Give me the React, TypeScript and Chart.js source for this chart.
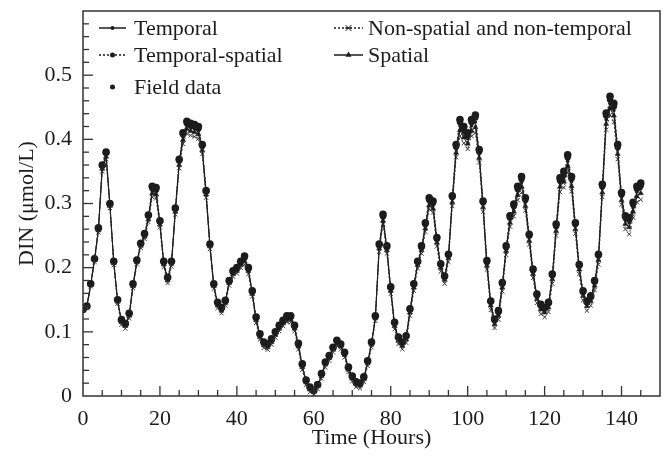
import React, { useEffect, useRef } from "react";
import { Chart, registerables } from "chart.js";

Chart.register(...registerables);

// Hours 0..145 (hourly time grid)
const hours: number[] = Array.from({ length: 146 }, (_, i) => i);

const fieldData = [
  0.135, 0.140, 0.175, 0.214, 0.262, 0.360, 0.380, 0.300, 0.210, 0.150,
  0.119, 0.113, 0.129, 0.175, 0.212, 0.238, 0.253, 0.282, 0.327, 0.325,
  0.273, 0.210, 0.185, 0.210, 0.293, 0.369, 0.410, 0.428, 0.425, 0.423,
  0.420, 0.392, 0.320, 0.237, 0.175, 0.146, 0.138, 0.149, 0.180, 0.195,
  0.200, 0.210, 0.218, 0.200, 0.164, 0.123, 0.097, 0.084, 0.081, 0.089,
  0.100, 0.110, 0.118, 0.125, 0.125, 0.110, 0.082, 0.050, 0.025, 0.014,
  0.009, 0.018, 0.035, 0.053, 0.063, 0.076, 0.087, 0.081, 0.068, 0.045,
  0.031, 0.022, 0.020, 0.030, 0.055, 0.084, 0.125, 0.237, 0.283, 0.234,
  0.170, 0.115, 0.092, 0.084, 0.094, 0.136, 0.175, 0.210, 0.234, 0.270,
  0.309, 0.304, 0.247, 0.206, 0.187, 0.221, 0.312, 0.392, 0.431, 0.420,
  0.410, 0.431, 0.438, 0.384, 0.304, 0.211, 0.148, 0.120, 0.133, 0.177,
  0.234, 0.281, 0.299, 0.327, 0.342, 0.309, 0.252, 0.198, 0.159, 0.143,
  0.138, 0.146, 0.190, 0.268, 0.340, 0.350, 0.376, 0.342, 0.270, 0.205,
  0.164, 0.148, 0.156, 0.180, 0.221, 0.330, 0.441, 0.467, 0.456, 0.392,
  0.317, 0.281, 0.278, 0.302, 0.327, 0.332,
];

const temporal = [
  0.136, 0.141, 0.174, 0.213, 0.260, 0.357, 0.376, 0.298, 0.209, 0.149,
  0.117, 0.111, 0.127, 0.173, 0.210, 0.236, 0.250, 0.278, 0.320, 0.318,
  0.270, 0.207, 0.182, 0.208, 0.290, 0.364, 0.404, 0.421, 0.418, 0.416,
  0.413, 0.387, 0.317, 0.235, 0.173, 0.143, 0.135, 0.147, 0.178, 0.192,
  0.197, 0.206, 0.213, 0.197, 0.161, 0.120, 0.094, 0.081, 0.078, 0.086,
  0.097, 0.107, 0.115, 0.121, 0.121, 0.107, 0.079, 0.047, 0.022, 0.011,
  0.007, 0.016, 0.033, 0.051, 0.061, 0.074, 0.084, 0.079, 0.066, 0.043,
  0.029, 0.020, 0.018, 0.028, 0.053, 0.082, 0.123, 0.233, 0.277, 0.230,
  0.167, 0.112, 0.089, 0.081, 0.091, 0.133, 0.172, 0.207, 0.230, 0.265,
  0.302, 0.297, 0.243, 0.203, 0.184, 0.218, 0.307, 0.385, 0.421, 0.410,
  0.401, 0.421, 0.427, 0.377, 0.299, 0.207, 0.145, 0.116, 0.129, 0.173,
  0.230, 0.275, 0.293, 0.319, 0.333, 0.302, 0.247, 0.194, 0.155, 0.139,
  0.134, 0.142, 0.186, 0.262, 0.332, 0.341, 0.366, 0.334, 0.265, 0.201,
  0.160, 0.144, 0.152, 0.176, 0.217, 0.323, 0.431, 0.456, 0.445, 0.384,
  0.311, 0.274, 0.270, 0.294, 0.318, 0.323,
];

const temporalSpatial = [
  0.136, 0.140, 0.175, 0.214, 0.261, 0.359, 0.379, 0.299, 0.210, 0.150,
  0.118, 0.112, 0.128, 0.174, 0.211, 0.237, 0.252, 0.281, 0.324, 0.322,
  0.272, 0.209, 0.184, 0.209, 0.292, 0.367, 0.408, 0.425, 0.422, 0.420,
  0.417, 0.390, 0.319, 0.236, 0.174, 0.145, 0.137, 0.148, 0.179, 0.194,
  0.199, 0.208, 0.216, 0.199, 0.163, 0.122, 0.096, 0.083, 0.080, 0.088,
  0.099, 0.109, 0.117, 0.123, 0.123, 0.109, 0.081, 0.049, 0.024, 0.013,
  0.008, 0.017, 0.034, 0.052, 0.062, 0.075, 0.086, 0.080, 0.067, 0.044,
  0.030, 0.021, 0.019, 0.029, 0.054, 0.083, 0.124, 0.235, 0.280, 0.232,
  0.169, 0.114, 0.091, 0.083, 0.093, 0.135, 0.174, 0.209, 0.232, 0.268,
  0.306, 0.301, 0.245, 0.205, 0.186, 0.220, 0.310, 0.389, 0.427, 0.416,
  0.406, 0.427, 0.434, 0.381, 0.302, 0.209, 0.147, 0.118, 0.131, 0.175,
  0.232, 0.278, 0.296, 0.323, 0.338, 0.306, 0.250, 0.196, 0.157, 0.141,
  0.136, 0.144, 0.188, 0.265, 0.336, 0.346, 0.372, 0.339, 0.268, 0.203,
  0.162, 0.146, 0.154, 0.178, 0.219, 0.327, 0.437, 0.462, 0.451, 0.388,
  0.314, 0.278, 0.275, 0.299, 0.323, 0.328,
];

const spatial = [
  0.135, 0.139, 0.173, 0.212, 0.258, 0.354, 0.373, 0.296, 0.207, 0.147,
  0.115, 0.109, 0.125, 0.171, 0.208, 0.234, 0.248, 0.275, 0.316, 0.314,
  0.267, 0.205, 0.180, 0.206, 0.287, 0.360, 0.399, 0.416, 0.413, 0.411,
  0.408, 0.383, 0.314, 0.233, 0.171, 0.141, 0.133, 0.145, 0.176, 0.190,
  0.195, 0.204, 0.210, 0.195, 0.159, 0.118, 0.092, 0.079, 0.076, 0.084,
  0.095, 0.105, 0.113, 0.119, 0.119, 0.105, 0.077, 0.045, 0.021, 0.010,
  0.006, 0.015, 0.031, 0.049, 0.059, 0.072, 0.082, 0.077, 0.064, 0.041,
  0.027, 0.018, 0.016, 0.026, 0.051, 0.080, 0.121, 0.230, 0.273, 0.227,
  0.164, 0.109, 0.086, 0.078, 0.088, 0.130, 0.169, 0.204, 0.227, 0.261,
  0.297, 0.292, 0.239, 0.200, 0.181, 0.215, 0.302, 0.379, 0.414, 0.403,
  0.393, 0.413, 0.419, 0.371, 0.294, 0.203, 0.141, 0.112, 0.125, 0.169,
  0.226, 0.270, 0.287, 0.313, 0.326, 0.296, 0.242, 0.190, 0.151, 0.135,
  0.130, 0.138, 0.182, 0.257, 0.326, 0.334, 0.358, 0.327, 0.260, 0.197,
  0.156, 0.140, 0.148, 0.172, 0.212, 0.317, 0.424, 0.448, 0.437, 0.377,
  0.305, 0.268, 0.263, 0.287, 0.311, 0.316,
];

const nonSpatial = [
  0.134, 0.137, 0.171, 0.209, 0.255, 0.350, 0.369, 0.293, 0.204, 0.144,
  0.111, 0.105, 0.121, 0.168, 0.205, 0.231, 0.245, 0.271, 0.310, 0.308,
  0.263, 0.201, 0.176, 0.202, 0.283, 0.355, 0.393, 0.409, 0.406, 0.404,
  0.401, 0.377, 0.309, 0.229, 0.167, 0.137, 0.129, 0.141, 0.172, 0.186,
  0.191, 0.200, 0.205, 0.190, 0.155, 0.114, 0.088, 0.075, 0.072, 0.080,
  0.091, 0.101, 0.109, 0.115, 0.115, 0.101, 0.073, 0.041, 0.017, 0.006,
  0.003, 0.011, 0.027, 0.045, 0.055, 0.068, 0.078, 0.073, 0.060, 0.037,
  0.023, 0.014, 0.012, 0.022, 0.047, 0.076, 0.117, 0.225, 0.268, 0.222,
  0.159, 0.104, 0.081, 0.073, 0.083, 0.125, 0.164, 0.199, 0.222, 0.256,
  0.291, 0.286, 0.233, 0.194, 0.175, 0.209, 0.296, 0.372, 0.405, 0.394,
  0.385, 0.405, 0.410, 0.364, 0.287, 0.197, 0.134, 0.106, 0.119, 0.163,
  0.220, 0.264, 0.280, 0.305, 0.317, 0.289, 0.236, 0.184, 0.145, 0.128,
  0.123, 0.131, 0.175, 0.250, 0.318, 0.325, 0.348, 0.319, 0.253, 0.190,
  0.149, 0.133, 0.141, 0.165, 0.205, 0.310, 0.415, 0.438, 0.427, 0.369,
  0.298, 0.260, 0.252, 0.278, 0.302, 0.306,
];

const xTickLabels = ["0", "20", "40", "60", "80", "100", "120", "140"];
const yTickLabels = ["0", "0.1", "0.2", "0.3", "0.4", "0.5"];

const FONT = "'Liberation Serif', 'Times New Roman', serif";
const INK = "#1c1c1c";

const toXY = (arr: number[]) => hours.map((h, i) => ({ x: h, y: arr[i] }));

function drawMarker(ctx: CanvasRenderingContext2D, style: string, x: number, y: number, r: number) {
  ctx.beginPath();
  if (style === "triangle") {
    ctx.moveTo(x, y - r * 1.15);
    ctx.lineTo(x + r, y + r * 0.6);
    ctx.lineTo(x - r, y + r * 0.6);
    ctx.closePath();
    ctx.fill();
  } else if (style === "crossRot") {
    ctx.moveTo(x - r, y - r);
    ctx.lineTo(x + r, y + r);
    ctx.moveTo(x + r, y - r);
    ctx.lineTo(x - r, y + r);
    ctx.moveTo(x - r * 1.2, y);
    ctx.lineTo(x + r * 1.2, y);
    ctx.stroke();
  } else {
    ctx.arc(x, y, r, 0, Math.PI * 2);
    ctx.fill();
  }
}

const frameTicksPlugin = {
  id: "frameTicks",
  afterDraw(chart: any) {
    const { ctx, chartArea, scales } = chart;
    const { left, right, top, bottom } = chartArea;
    ctx.save();
    ctx.strokeStyle = "#333";
    ctx.lineWidth = 1.5;
    ctx.setLineDash([]);
    ctx.strokeRect(left, top, right - left, bottom - top);
    ctx.lineWidth = 1.3;
    scales.x.ticks.forEach((t: any) => {
      const px = scales.x.getPixelForValue(t.value);
      if (px <= left + 1 || px >= right - 1) return;
      const major = Math.round(t.value) % 20 === 0;
      ctx.beginPath();
      ctx.moveTo(px, bottom);
      ctx.lineTo(px, bottom - (major ? 10 : 6));
      ctx.stroke();
    });
    scales.y.ticks.forEach((t: any) => {
      const py = scales.y.getPixelForValue(t.value);
      if (py <= top + 1 || py >= bottom - 1) return;
      const major = Math.round(t.value * 100) % 10 === 0;
      ctx.beginPath();
      ctx.moveTo(left, py);
      ctx.lineTo(left + (major ? 10 : 6), py);
      ctx.stroke();
    });
    ctx.restore();
  },
};

const legendSlots = [
  { x1: 99, x2: 126, tx: 134, y: 28 },
  { x1: 334, x2: 363, tx: 368, y: 28 },
  { x1: 99, x2: 126, tx: 134, y: 55 },
  { x1: 334, x2: 363, tx: 368, y: 55 },
  { x1: 99, x2: 126, tx: 134, y: 87 },
];
const legendMarkerSize = [2, 3, 2.5, 3, 2.5];

const legendPlugin = {
  id: "customLegend",
  afterDraw(chart: any) {
    const { ctx } = chart;
    ctx.save();
    chart.data.datasets.forEach((ds: any, i: number) => {
      const s = legendSlots[i];
      if (!s) return;
      ctx.strokeStyle = INK;
      ctx.fillStyle = INK;
      if (ds.showLine !== false) {
        ctx.lineWidth = 1.5;
        ctx.setLineDash(ds.borderDash || []);
        ctx.beginPath();
        ctx.moveTo(s.x1, s.y);
        ctx.lineTo(s.x2, s.y);
        ctx.stroke();
      }
      ctx.setLineDash([]);
      ctx.lineWidth = 1;
      drawMarker(ctx, ds.pointStyle, (s.x1 + s.x2) / 2, s.y, legendMarkerSize[i]);
      ctx.font = `22px ${FONT}`;
      ctx.textAlign = "left";
      ctx.textBaseline = "middle";
      ctx.fillText(ds.label, s.tx, s.y + 1);
    });
    ctx.restore();
  },
};

export default function App() {
  const ref = useRef<HTMLCanvasElement | null>(null);

  useEffect(() => {
    if (!ref.current) return;
    const font = { family: FONT, size: 22 };
    const chart = new Chart(ref.current, {
      type: "line",
      data: {
        datasets: [
          {
            label: "Temporal",
            data: toXY(temporal),
            borderColor: INK,
            borderWidth: 1,
            pointStyle: "circle",
            pointRadius: 1.8,
            pointBackgroundColor: INK,
            pointBorderWidth: 0,
          },
          {
            label: "Non-spatial and non-temporal",
            data: toXY(nonSpatial),
            borderColor: "#3a3a3a",
            borderWidth: 1,
            borderDash: [2, 2],
            pointStyle: "crossRot",
            pointRadius: 3,
            pointBorderColor: "#3a3a3a",
            pointBorderWidth: 1,
          },
          {
            label: "Temporal-spatial",
            data: toXY(temporalSpatial),
            borderColor: INK,
            borderWidth: 1,
            borderDash: [2, 2],
            pointStyle: "circle",
            pointRadius: 3.2,
            pointBackgroundColor: INK,
            pointBorderWidth: 0,
          },
          {
            label: "Spatial",
            data: toXY(spatial),
            borderColor: INK,
            borderWidth: 1,
            pointStyle: "triangle",
            pointRadius: 3,
            pointBackgroundColor: INK,
            pointBorderColor: INK,
            pointBorderWidth: 0.5,
          },
          {
            label: "Field data",
            data: toXY(fieldData),
            showLine: false,
            borderColor: INK,
            pointStyle: "circle",
            pointRadius: 3.8,
            pointBackgroundColor: INK,
            pointBorderWidth: 0,
          },
        ] as any,
      },
      options: {
        animation: false,
        responsive: false,
        devicePixelRatio: 1,
        layout: { padding: { top: 11, right: 9, left: 0, bottom: 0 } },
        plugins: { legend: { display: false }, tooltip: { enabled: false } },
        scales: {
          x: {
            type: "linear",
            min: 0,
            max: 150,
            grid: { display: false, drawTicks: false },
            border: { display: false },
            ticks: {
              stepSize: 5,
              autoSkip: false,
              maxRotation: 0,
              padding: 10,
              color: INK,
              font,
              callback: (v: any) => (xTickLabels.includes(String(v)) ? String(v) : ""),
            },
            title: {
              display: true,
              text: "Time (Hours)",
              color: INK,
              font,
              padding: { top: 0, bottom: 8 },
            },
            afterFit: (s: any) => {
              s.height = 63;
              s.paddingLeft = 0;
              s.paddingRight = 0;
            },
          },
          y: {
            min: 0,
            max: 0.6,
            grid: { display: false, drawTicks: false },
            border: { display: false },
            ticks: {
              stepSize: 0.02,
              autoSkip: false,
              padding: 11,
              color: INK,
              font,
              callback: (v: any) => {
                const s = String(Math.round(Number(v) * 100) / 100);
                return yTickLabels.includes(s) ? s : "";
              },
            },
            title: {
              display: true,
              text: "DIN (μmol/L)",
              color: INK,
              font,
              padding: { top: 14, bottom: 0 },
            },
            afterFit: (s: any) => {
              s.width = 83;
              s.paddingTop = 0;
              s.paddingBottom = 0;
            },
          },
        },
      } as any,
      plugins: [frameTicksPlugin, legendPlugin],
    });
    return () => chart.destroy();
  }, []);

  return (
    <div style={{ position: "fixed", left: 0, top: 0, width: 669, height: 459, background: "#fff" }}>
      <canvas ref={ref} width={669} height={459} style={{ display: "block" }} />
    </div>
  );
}
